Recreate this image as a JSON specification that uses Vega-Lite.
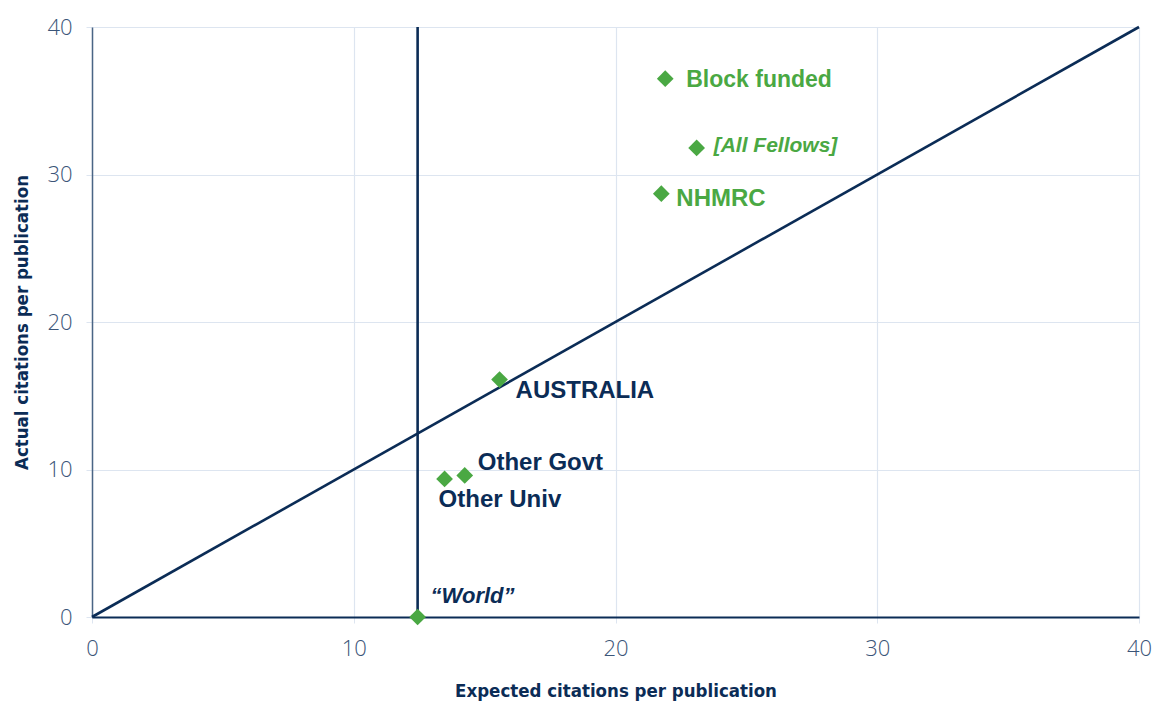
{
  "$schema": "https://vega.github.io/schema/vega-lite/v6.json",
  "width": 1047,
  "height": 590,
  "autosize": {"type": "none"},
  "padding": {"left": 92, "top": 27, "right": 18, "bottom": 88},
  "background": "white",
  "config": {
    "view": {"stroke": null},
    "axis": {
      "labelFont": "Open Sans",
      "labelFontWeight": 300,
      "labelFontSize": 22,
      "labelColor": "#3b5578",
      "labelFlush": false,
      "titleFont": "DejaVu Sans Condensed, Liberation Sans",
      "titleFontWeight": "bold",
      "titleFontSize": 18.5,
      "titleColor": "#0b2c56",
      "gridColor": "#dde5f0",
      "gridWidth": 1.2,
      "tickColor": "#dde5f0",
      "tickSize": 6
    }
  },
  "datasets": {
    "points": [
      {"name": "Block funded", "expected": 21.9, "actual": 36.5},
      {"name": "[All Fellows]", "expected": 23.1, "actual": 31.8},
      {"name": "NHMRC", "expected": 21.75, "actual": 28.7},
      {"name": "AUSTRALIA", "expected": 15.57, "actual": 16.1},
      {"name": "Other Govt", "expected": 14.24, "actual": 9.6},
      {"name": "Other Univ", "expected": 13.47, "actual": 9.36},
      {"name": "“World”", "expected": 12.44, "actual": 0}
    ],
    "parity": [
      {"expected": 0, "actual": 0},
      {"expected": 40, "actual": 40}
    ],
    "world": [
      {"expected": 12.44, "low": 0, "high": 40}
    ]
  },
  "layer": [
    {
      "data": {"name": "parity"},
      "mark": {"type": "line", "color": "#0b2c56", "strokeWidth": 2.6, "clip": false},
      "encoding": {
        "x": {
          "field": "expected", "type": "quantitative",
          "scale": {"domain": [0, 40], "nice": false},
          "axis": {
            "title": "Expected citations per publication",
            "values": [0, 10, 20, 30, 40],
            "domainColor": "#0b2c56",
            "domainWidth": 2,
            "labelPadding": 15,
            "titlePadding": 22,
            "grid": true
          }
        },
        "y": {
          "field": "actual", "type": "quantitative",
          "scale": {"domain": [0, 40], "nice": false},
          "axis": {
            "title": "Actual citations per publication",
            "values": [0, 10, 20, 30, 40],
            "domainColor": "#4a6585",
            "domainWidth": 1.5,
            "labelPadding": 14,
            "titlePadding": 15,
            "grid": true
          }
        }
      }
    },
    {
      "data": {"name": "world"},
      "mark": {"type": "rule", "color": "#0b2c56", "strokeWidth": 2.6, "clip": false},
      "encoding": {
        "x": {"field": "expected", "type": "quantitative"},
        "y": {"field": "low", "type": "quantitative"},
        "y2": {"field": "high"}
      }
    },
    {
      "data": {"name": "points"},
      "mark": {"type": "point", "shape": "diamond", "filled": true, "color": "#4aa843", "opacity": 1, "size": 280},
      "encoding": {
        "x": {"field": "expected", "type": "quantitative"},
        "y": {"field": "actual", "type": "quantitative"}
      }
    },
    {
      "data": {"name": "points"},
      "transform": [{"filter": "datum.name == 'Block funded'"}],
      "mark": {"type": "text", "font": "Liberation Sans", "fontWeight": "bold", "fontSize": 23, "color": "#4aa843", "align": "left", "baseline": "middle", "dx": 21, "dy": 1},
      "encoding": {
        "x": {"field": "expected", "type": "quantitative"},
        "y": {"field": "actual", "type": "quantitative"},
        "text": {"field": "name"}
      }
    },
    {
      "data": {"name": "points"},
      "transform": [{"filter": "datum.name == '[All Fellows]'"}],
      "mark": {"type": "text", "font": "Liberation Sans", "fontWeight": "bold", "fontStyle": "italic", "fontSize": 21, "color": "#4aa843", "align": "left", "baseline": "middle", "dx": 17, "dy": -2},
      "encoding": {
        "x": {"field": "expected", "type": "quantitative"},
        "y": {"field": "actual", "type": "quantitative"},
        "text": {"field": "name"}
      }
    },
    {
      "data": {"name": "points"},
      "transform": [{"filter": "datum.name == 'NHMRC'"}],
      "mark": {"type": "text", "font": "Liberation Sans", "fontWeight": "bold", "fontSize": 24, "color": "#4aa843", "align": "left", "baseline": "middle", "dx": 15, "dy": 5},
      "encoding": {
        "x": {"field": "expected", "type": "quantitative"},
        "y": {"field": "actual", "type": "quantitative"},
        "text": {"field": "name"}
      }
    },
    {
      "data": {"name": "points"},
      "transform": [{"filter": "datum.name == 'AUSTRALIA'"}],
      "mark": {"type": "text", "font": "Liberation Sans", "fontWeight": "bold", "fontSize": 24, "color": "#0b2c56", "align": "left", "baseline": "middle", "dx": 16, "dy": 11},
      "encoding": {
        "x": {"field": "expected", "type": "quantitative"},
        "y": {"field": "actual", "type": "quantitative"},
        "text": {"field": "name"}
      }
    },
    {
      "data": {"name": "points"},
      "transform": [{"filter": "datum.name == 'Other Govt'"}],
      "mark": {"type": "text", "font": "Liberation Sans", "fontWeight": "bold", "fontSize": 24, "color": "#0b2c56", "align": "left", "baseline": "middle", "dx": 13, "dy": -12},
      "encoding": {
        "x": {"field": "expected", "type": "quantitative"},
        "y": {"field": "actual", "type": "quantitative"},
        "text": {"field": "name"}
      }
    },
    {
      "data": {"name": "points"},
      "transform": [{"filter": "datum.name == 'Other Univ'"}],
      "mark": {"type": "text", "font": "Liberation Sans", "fontWeight": "bold", "fontSize": 24, "color": "#0b2c56", "align": "left", "baseline": "middle", "dx": -6, "dy": 21},
      "encoding": {
        "x": {"field": "expected", "type": "quantitative"},
        "y": {"field": "actual", "type": "quantitative"},
        "text": {"field": "name"}
      }
    },
    {
      "data": {"name": "points"},
      "transform": [{"filter": "datum.name == '“World”'"}],
      "mark": {"type": "text", "font": "Liberation Sans", "fontWeight": "bold", "fontStyle": "italic", "fontSize": 22, "color": "#0b2c56", "align": "left", "baseline": "middle", "dx": 13, "dy": -21},
      "encoding": {
        "x": {"field": "expected", "type": "quantitative"},
        "y": {"field": "actual", "type": "quantitative"},
        "text": {"field": "name"}
      }
    }
  ]
}
